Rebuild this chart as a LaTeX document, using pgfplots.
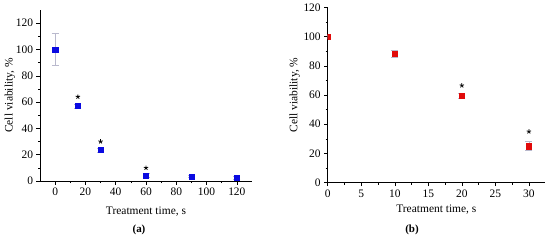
\documentclass[border=0pt]{standalone}
\usepackage{fontspec}
\setmainfont{Liberation Serif}
\usepackage{pgfplots}
\pgfplotsset{compat=1.18}
\usetikzlibrary{plotmarks}
\definecolor{myblue}{RGB}{10,10,225}
\definecolor{myred}{RGB}{225,10,10}
\definecolor{errgray}{RGB}{185,185,205}
\pgfplotsset{
  mystyle/.style={
    scale only axis,
    axis x line*=bottom, axis y line*=left,
    tick align=outside,
    major tick length=3.5bp, minor tick length=2bp,
    tick style={black, line width=0.5pt},
    axis line style={black, line width=0.6pt},
    /pgf/number format/assume math mode=true,
    tick label style={font=\fontsize{11.5}{13}\selectfont},
    label style={font=\fontsize{11.5}{13}\selectfont},
    minor x tick num=1, minor y tick num=1,
    ymin=0,
    ytick={0,20,...,120},
    ylabel={Cell viability, \%},
    xlabel={Treatment time, s},
  }
}
\begin{document}
\begin{tikzpicture}[x=1bp,y=1bp]
\path[use as bounding box] (0,0) rectangle (550,242);
\begin{axis}[mystyle,
  at={(40bp,61bp)}, anchor=south west,
  width=212bp, height=171bp,
  xmin=-10, xmax=130, ymax=130,
  xtick={0,20,...,120},
  xlabel style={at={(axis description cs:0.5,-0.18)}, anchor=center},
  ylabel style={at={(axis description cs:-0.142,0.5)}, anchor=center, rotate=0},
]
\addplot[only marks, mark=square*, mark size=2.6bp, color=myblue,
  error bars/.cd, y dir=both, y explicit,
  error bar style={errgray, line width=0.6pt},
  error mark options={rotate=90, mark size=3.5bp, errgray, line width=0.6pt}]
  coordinates {
  (0,100) +- (0,12)
  (15,57) +- (0,1.5)
  (30,23.5) +- (0,1.5)
  (60,4) +- (0,1.5)
  (90,3.5) +- (0,1)
  (120,2.5) +- (0,1)
};
\addplot[only marks, mark=star, mark size=2.3bp, black, line width=0.8pt]
  coordinates {(15,64) (30,30) (60,10)};
\end{axis}
\begin{axis}[mystyle,
  at={(327.7bp,59.3bp)}, anchor=south west,
  width=217.3bp, height=175.4bp,
  xmin=0, xmax=32.4, ymax=120,
  xtick={0,5,...,30},
  clip marker paths=true,
  xlabel style={at={(axis description cs:0.5,-0.156)}, anchor=center},
  ylabel style={at={(axis description cs:-0.152,0.5)}, anchor=center, rotate=0},
]
\addplot[only marks, mark=square*, mark size=2.6bp, color=myred,
  error bars/.cd, y dir=both, y explicit,
  error bar style={errgray, line width=0.6pt},
  error mark options={rotate=90, mark size=3.5bp, errgray, line width=0.6pt}]
  coordinates {
  (0,100) +- (0,1)
  (10,88) +- (0,2.5)
  (20,59.5) +- (0,2)
  (30,25) +- (0,3)
};
\addplot[only marks, mark=star, mark size=2.3bp, black, line width=0.8pt]
  coordinates {(20,66.5) (30,35)};
\end{axis}
\node[font=\fontsize{11}{13}\selectfont\bfseries] at (139,12) {(a)};
\node[font=\fontsize{11}{13}\selectfont\bfseries] at (412,12) {(b)};
\end{tikzpicture}
\end{document}
